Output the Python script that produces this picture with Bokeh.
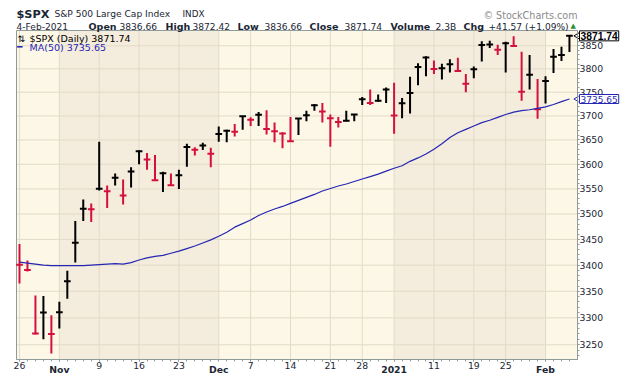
import numpy as np
from bokeh.plotting import figure
from bokeh.models import (Range1d, FixedTicker, PrintfTickFormatter, Label, LinearAxis, LogAxis)
from bokeh.embed import file_html
from bokeh.resources import INLINE

# ---------------- data ----------------
dates = ["Oct 26", "Oct 27", "Oct 28", "Oct 29", "Oct 30",
         "Nov 2", "Nov 3", "Nov 4", "Nov 5", "Nov 6", "Nov 9", "Nov 10", "Nov 11", "Nov 12", "Nov 13",
         "Nov 16", "Nov 17", "Nov 18", "Nov 19", "Nov 20", "Nov 23", "Nov 24", "Nov 25", "Nov 27", "Nov 30",
         "Dec 1", "Dec 2", "Dec 3", "Dec 4", "Dec 7", "Dec 8", "Dec 9", "Dec 10", "Dec 11",
         "Dec 14", "Dec 15", "Dec 16", "Dec 17", "Dec 18", "Dec 21", "Dec 22", "Dec 23", "Dec 24",
         "Dec 28", "Dec 29", "Dec 30", "Dec 31",
         "Jan 4", "Jan 5", "Jan 6", "Jan 7", "Jan 8", "Jan 11", "Jan 12", "Jan 13", "Jan 14", "Jan 15",
         "Jan 19", "Jan 20", "Jan 21", "Jan 22", "Jan 25", "Jan 26", "Jan 27", "Jan 28", "Jan 29",
         "Feb 1", "Feb 2", "Feb 3", "Feb 4"]

highs = [3441, 3409, 3342, 3341, 3305, 3330, 3389, 3486, 3529, 3521, 3646, 3557, 3581, 3569, 3594,
         3628, 3623, 3619, 3585, 3581, 3589, 3642, 3635, 3644, 3634,
         3678, 3671, 3683, 3699, 3697, 3708, 3712, 3686, 3666,
         3698, 3695, 3711, 3725, 3727, 3703, 3698, 3711, 3704,
         3740, 3756, 3745, 3760,
         3770, 3738, 3783, 3812, 3827, 3818, 3811, 3821, 3824, 3789,
         3805, 3860, 3861, 3852, 3859, 3871, 3837, 3830, 3778,
         3784, 3843, 3848, 3872.42]

lows = [3365, 3388, 3269, 3260, 3234, 3280, 3336, 3405, 3486, 3484, 3547, 3512, 3557, 3519, 3553,
        3600, 3589, 3567, 3544, 3557, 3550, 3595, 3618, 3629, 3594,
        3646, 3645, 3657, 3671, 3679, 3679, 3661, 3645, 3633,
        3646, 3660, 3689, 3711, 3686, 3636, 3676, 3689, 3689,
        3723, 3723, 3730, 3727,
        3663, 3695, 3705, 3765, 3784, 3789, 3777, 3792, 3793, 3750,
        3780, 3816, 3845, 3830, 3792, 3848, 3732, 3756, 3694,
        3726, 3791, 3817, 3836.66]

closes = [3400.97, 3390.68, 3271.03, 3310.11, 3269.96, 3310.24, 3369.16, 3443.44, 3510.45, 3509.44,
          3550.50, 3545.53, 3572.66, 3537.01, 3585.15, 3626.91, 3609.53, 3567.79, 3581.87, 3557.54,
          3577.59, 3635.41, 3629.65, 3638.35, 3621.63, 3662.45, 3669.01, 3666.72, 3699.12, 3691.96,
          3702.25, 3672.82, 3668.10, 3663.46, 3647.49, 3694.62, 3701.17, 3722.48, 3709.41, 3694.92,
          3687.26, 3690.01, 3703.06, 3735.36, 3727.04, 3732.04, 3756.07, 3700.65, 3726.86, 3748.14,
          3803.79, 3824.68, 3799.61, 3801.19, 3809.84, 3795.54, 3768.25, 3798.91, 3851.85, 3853.07,
          3841.47, 3855.36, 3849.62, 3750.77, 3787.38, 3714.24, 3773.86, 3826.31, 3830.17, 3871.74]

prior_close = 3465.39  # close before the first bar (first bar is a down bar)

ma50 = [3406, 3404, 3402, 3400, 3399, 3399, 3399, 3399, 3399, 3400,
        3401, 3402, 3403, 3402, 3405, 3410, 3414, 3417, 3419, 3423,
        3427, 3432, 3437, 3443, 3449, 3456, 3464, 3474, 3481, 3488,
        3497, 3504, 3510, 3515, 3521, 3527, 3533, 3539, 3546, 3551,
        3556, 3560, 3565, 3570, 3575, 3580, 3586, 3592, 3597, 3606,
        3613, 3621, 3631, 3642, 3655, 3665, 3672, 3679, 3686, 3691,
        3697, 3703, 3708, 3711, 3713, 3716, 3719, 3724, 3730, 3735.65]

tick_idx = [0, 5, 10, 15, 20, 25, 29, 34, 39, 43, 47, 52, 57, 61, 66]
tick_text = ["26", "Nov", "9", "16", "23", "Dec", "7", "14", "21", "28", "2021", "11", "19", "25", "Feb"]
tick_is_month = [False, True, False, False, False, True, False, False, False, False, True, False, False, False, True]

y_ticks = [3250, 3300, 3350, 3400, 3450, 3500, 3550, 3600, 3650, 3700, 3750, 3800, 3850]

header_symbol = "$SPX"
header_name = "S&P 500 Large Cap Index"
header_exchange = "INDX"
header_date = "4-Feb-2021"
header_fields = [("Open", "3836.66"), ("High", "3872.42"), ("Low", "3836.66"),
                 ("Close", "3871.74"), ("Volume", "2.3B"), ("Chg", "+41.57 (+1.09%)")]
last_close_text = "3871.74"
last_ma_text = "3735.65"

# ---------------- layout ----------------
W, H = 620, 376
FL, FR, FT, FB = 16, 577, 30, 359          # plot-area box inside the canvas
XS, XE = -0.376, 70.01                     # x data at the plot-area edges
Y_TOP, Y_BOT = 3883.5, 3223.0              # price at the plot-area edges (log scale)

pxu = (FR - FL) / (XE - XS)
CX0, CX1 = XS - FL / pxu, XS + (W - FL) / pxu
lt, lb = np.log(Y_TOP), np.log(Y_BOT)
k = (lt - lb) / (FB - FT)
CY1, CY0 = float(np.exp(lt + FT * k)), float(np.exp(lb - (H - FB) * k))

def px_of(xv):
    return FL + (xv - XS) * pxu

def py_of(yv):
    return FT + (lt - np.log(yv)) / k

FONT = "DejaVu Sans"
TXT = "#1b2633"
LIGHT = "#fdf7e7"
DARK = "#f4ecdc"
GRID = "#e3dac8"
RED = "#d4103c"
BLUE = "#2626b4"
AXC = "#909c9c"

p = figure(width=W, height=H, x_range=Range1d(CX0, CX1), y_range=Range1d(CY0, CY1),
           y_axis_type="log", x_axis_location=None, y_axis_location=None,
           output_backend="svg", toolbar_location=None, min_border=0)
p.min_border_left = p.min_border_right = p.min_border_top = p.min_border_bottom = 0
p.background_fill_color = "white"
p.border_fill_color = "white"
p.outline_line_color = None
p.grid.visible = False

# plot area background and alternating month shading
p.quad(left=[XS], right=[XE], bottom=[Y_BOT], top=[Y_TOP], fill_color=LIGHT, line_color=None)
month_starts = [i for i, m in zip(tick_idx, tick_is_month) if m]
bounds = [0] + month_starts + [len(closes)]
dl, dr = [], []
for j in range(len(bounds) - 1):
    if j % 2 == 1:
        dl.append(bounds[j])
        dr.append(min(bounds[j + 1], XE))
p.quad(left=dl, right=dr, bottom=Y_BOT, top=Y_TOP, fill_color=DARK, line_color=None)

# grid lines at the axis ticks
p.segment(x0=tick_idx, y0=Y_BOT, x1=tick_idx, y1=Y_TOP, line_color=GRID, line_width=1)
p.segment(x0=XS, y0=y_ticks, x1=XE, y1=y_ticks, line_color=GRID, line_width=1)

# frame outline
p.quad(left=[XS], right=[XE], bottom=[Y_BOT], top=[Y_TOP], fill_color=None, line_color=AXC, line_width=1)

# axes fixed at the plot-area edges
xa = LinearAxis(fixed_location=Y_BOT, bounds=(XS, XE))
xa.ticker = FixedTicker(ticks=tick_idx, minor_ticks=list(range(len(closes))))
xa.major_label_overrides = {i: ("" if m else t) for i, t, m in zip(tick_idx, tick_text, tick_is_month)}
ya = LogAxis(fixed_location=XE, bounds=(Y_BOT, Y_TOP))
ya.ticker = FixedTicker(ticks=y_ticks, minor_ticks=list(range(3230, 3881, 10)))
ya.formatter = PrintfTickFormatter(format="%d")
for ax in (xa, ya):
    ax.axis_line_color = AXC
    ax.major_tick_line_color = AXC
    ax.minor_tick_line_color = AXC
    ax.major_tick_in = 0
    ax.major_tick_out = 2
    ax.minor_tick_in = 0
    ax.minor_tick_out = 2
    ax.major_label_standoff = 0
    ax.major_label_text_font = FONT
    ax.major_label_text_font_size = "9.3px"
    ax.major_label_text_color = TXT
p.add_layout(xa, "below")
p.add_layout(ya, "right")

# bars (high-low with a close tick)
x = np.arange(len(closes))
prev = [prior_close] + closes[:-1]
colors = ["#000000" if c > pc else RED for c, pc in zip(closes, prev)]
p.segment(x0=x, y0=lows, x1=x, y1=highs, line_color=colors, line_width=2)
p.segment(x0=x - 0.42, y0=closes, x1=x + 0.42, y1=closes, line_color=colors, line_width=2)

# moving average
p.line(x, ma50, line_color=BLUE, line_width=1.2)

# pointers of the price tags on the right axis
p.scatter(x=[XE + 0.2, XE + 0.2], y=[closes[-1], ma50[-1]], marker="triangle", angle=np.pi / 2,
          size=9, fill_color="white", line_color=["#000000", BLUE], line_width=1)

def lab(px, py, text, size, bold=False, color=TXT, align="left", baseline="alphabetic",
        font=FONT, **kw):
    p.add_layout(Label(x=float(px), y=float(py), x_units="canvas", y_units="canvas", text=text,
                       text_font=font, text_font_size=size,
                       text_font_style="bold" if bold else "normal", text_color=color,
                       text_align=align, text_baseline=baseline, **kw))

# bold month names on the date axis
for i, t, m in zip(tick_idx, tick_text, tick_is_month):
    if m:
        lab(px_of(i), 368.5, t, "9.3px", bold=True, align="center")

# header
lab(16, 14, header_symbol, "11.3px", bold=True)
lab(54, 13.5, header_name, "9.1px")
lab(182, 13.5, header_exchange, "8.8px")
lab(16, 26.3, header_date, "9.1px")
field_x = [(88, 119), (165, 192), (237, 264), (309, 344), (390, 435), (463, 488)]
for (name, val), (nx, vx) in zip(header_fields, field_x):
    lab(nx, 26.3, name, "9.5px", bold=True)
    lab(vx, 26.3, val, "9.1px")
lab(570, 25, "\u25B2", "7px", color="#2f8f2f")
lab(577, 15, "\u00A9 StockCharts.com", "9.6px", color="#8a8a8a", align="right")

# legend inside the plot area
lab(17, 38, "\u21C5", "9px", color="#000000")
lab(29, 38, "%s (Daily) %s" % (header_symbol, last_close_text), "9.5px", color="#000000")
lab(16.5, 46.5, "\u2501", "9px", color=BLUE)
lab(29, 46.5, "MA(50) %s" % last_ma_text, "9.5px", color=BLUE)

# price tag boxes
yc = py_of(closes[-1])
ym = py_of(ma50[-1])
lab(579, yc, last_close_text, "10.3px", bold=True, color="#000000", baseline="middle",
    font="Liberation Sans", background_fill_color="white", border_line_color="#000000", padding=1)
lab(579, ym, last_ma_text, "9px", color=BLUE, baseline="middle",
    background_fill_color="white", border_line_color=BLUE, padding=1)

open("out.html", "w").write(file_html(p, INLINE))
